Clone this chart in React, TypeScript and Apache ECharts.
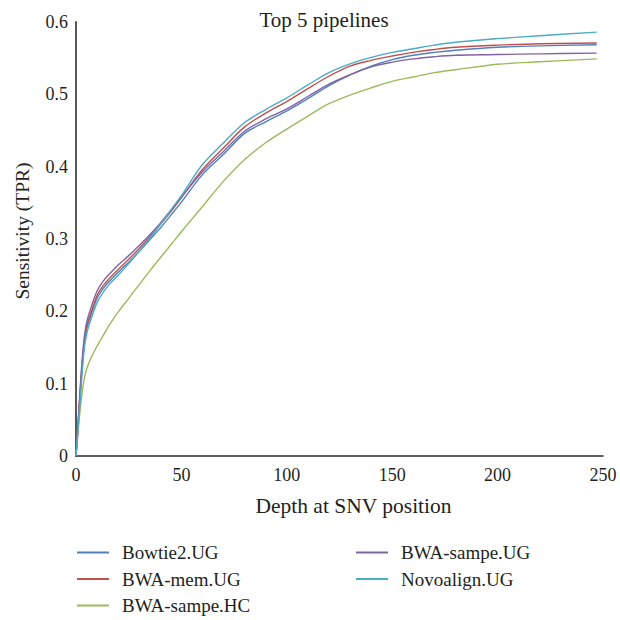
import React, { useEffect, useRef } from "react";
import * as echarts from "echarts";

const depths = [0, 1, 2, 3, 4, 5, 7, 10, 13, 16, 20, 25, 30, 35, 40, 45, 50, 60, 70, 80, 90, 100, 110, 120, 130, 140, 150, 160, 170, 180, 200, 220, 247];

const bowtie2UG = [0, 0.043, 0.086, 0.126, 0.157, 0.175, 0.194, 0.218, 0.232, 0.242, 0.254, 0.268, 0.283, 0.299, 0.315, 0.333, 0.351, 0.389, 0.417, 0.446, 0.462, 0.477, 0.494, 0.512, 0.527, 0.539, 0.548, 0.554, 0.558, 0.561, 0.565, 0.567, 0.5685];
const bwaMemUG = [0, 0.045, 0.09, 0.13, 0.16, 0.178, 0.197, 0.222, 0.236, 0.246, 0.258, 0.272, 0.287, 0.303, 0.32, 0.338, 0.357, 0.396, 0.426, 0.455, 0.474, 0.49, 0.508, 0.525, 0.539, 0.547, 0.553, 0.558, 0.562, 0.565, 0.568, 0.57, 0.571];
const bwaSampeHC = [0, 0.033, 0.065, 0.09, 0.108, 0.12, 0.135, 0.152, 0.167, 0.182, 0.199, 0.218, 0.237, 0.256, 0.274, 0.292, 0.31, 0.345, 0.38, 0.41, 0.433, 0.452, 0.47, 0.487, 0.499, 0.509, 0.518, 0.524, 0.53, 0.534, 0.5415, 0.545, 0.549];
const bwaSampeUG = [0, 0.048, 0.095, 0.136, 0.166, 0.184, 0.204, 0.228, 0.242, 0.252, 0.264, 0.277, 0.291, 0.306, 0.322, 0.34, 0.358, 0.393, 0.421, 0.449, 0.466, 0.48, 0.497, 0.514, 0.527, 0.538, 0.5445, 0.549, 0.552, 0.554, 0.555, 0.556, 0.557];
const novoalignUG = [0, 0.038, 0.078, 0.118, 0.15, 0.168, 0.188, 0.212, 0.227, 0.238, 0.25, 0.266, 0.283, 0.301, 0.32, 0.34, 0.36, 0.403, 0.433, 0.461, 0.479, 0.495, 0.513, 0.53, 0.542, 0.551, 0.558, 0.563, 0.568, 0.572, 0.577, 0.581, 0.586];

const seriesNames = ["Bowtie2.UG", "BWA-mem.UG", "BWA-sampe.HC", "BWA-sampe.UG", "Novoalign.UG"];
const seriesValues = [bowtie2UG, bwaMemUG, bwaSampeHC, bwaSampeUG, novoalignUG];
const seriesColors = ["#4F81BD", "#C0504D", "#9BBB59", "#8064A2", "#4BACC6"];

const xTicks = { min: 0, max: 250, interval: 50 };
const yTicks = { min: 0, max: 0.6, interval: 0.1 };

const FONT = "'Liberation Serif', 'Times New Roman', serif";
const TEXT = "#231f20";

export default function App() {
  const ref = useRef<HTMLDivElement>(null);
  useEffect(() => {
    if (!ref.current) return;
    const chart = echarts.init(ref.current, undefined, { renderer: "svg" });
    const legendBase = {
      orient: "vertical",
      top: 543,
      height: 90,
      padding: 0,
      icon: "rect",
      itemWidth: 32,
      itemHeight: 2,
      itemGap: 7.5,
      textStyle: { fontFamily: FONT, fontSize: 19, color: TEXT, padding: [0, 0, 0, 8] },
    };
    const option = {
      animation: false,
      backgroundColor: "#ffffff",
      textStyle: { fontFamily: FONT, color: TEXT },
      title: {
        text: "Top 5 pipelines",
        left: 319,
        top: 4,
        textAlign: "center",
        textStyle: { fontFamily: FONT, fontSize: 21, fontWeight: "normal", color: TEXT },
      },
      grid: { left: 76, top: 22, right: 17, bottom: 164, containLabel: false },
      legend: [
        { ...legendBase, data: seriesNames.slice(0, 3), left: 77 },
        { ...legendBase, data: seriesNames.slice(3), left: 356 },
      ],
      xAxis: {
        type: "value",
        min: xTicks.min,
        max: xTicks.max,
        interval: xTicks.interval,
        name: "Depth at SNV position",
        nameLocation: "middle",
        nameGap: 39,
        nameTextStyle: { fontFamily: FONT, fontSize: 21.5, color: TEXT, padding: [0, 0, 0, 28] },
        axisLine: { show: true, lineStyle: { color: "#2a2a2a", width: 1.5 } },
        axisTick: { show: false },
        splitLine: { show: false },
        axisLabel: { fontFamily: FONT, fontSize: 18, color: TEXT, margin: 10 },
      },
      yAxis: {
        type: "value",
        min: yTicks.min,
        max: yTicks.max,
        interval: yTicks.interval,
        name: "Sensitivity (TPR)",
        nameLocation: "middle",
        nameGap: 44,
        nameTextStyle: { fontFamily: FONT, fontSize: 19.5, color: TEXT, padding: [0, 0, 0, 16] },
        axisLine: { show: true, lineStyle: { color: "#595959", width: 2 } },
        axisTick: { show: false },
        splitLine: { show: false },
        axisLabel: { fontFamily: FONT, fontSize: 18, color: TEXT, margin: 8 },
      },
      series: seriesNames.map((name, i) => ({
        name,
        type: "line",
        data: depths.map((d, j) => [d, seriesValues[i][j]]),
        symbol: "none",
        smooth: 0.35,
        color: seriesColors[i],
        lineStyle: { color: seriesColors[i], width: 1.4 },
      })),
    };
    chart.setOption(option as any);
    return () => chart.dispose();
  }, []);
  return (
    <div
      ref={ref}
      style={{ position: "fixed", left: 0, top: 0, width: 620, height: 620 }}
    />
  );
}
